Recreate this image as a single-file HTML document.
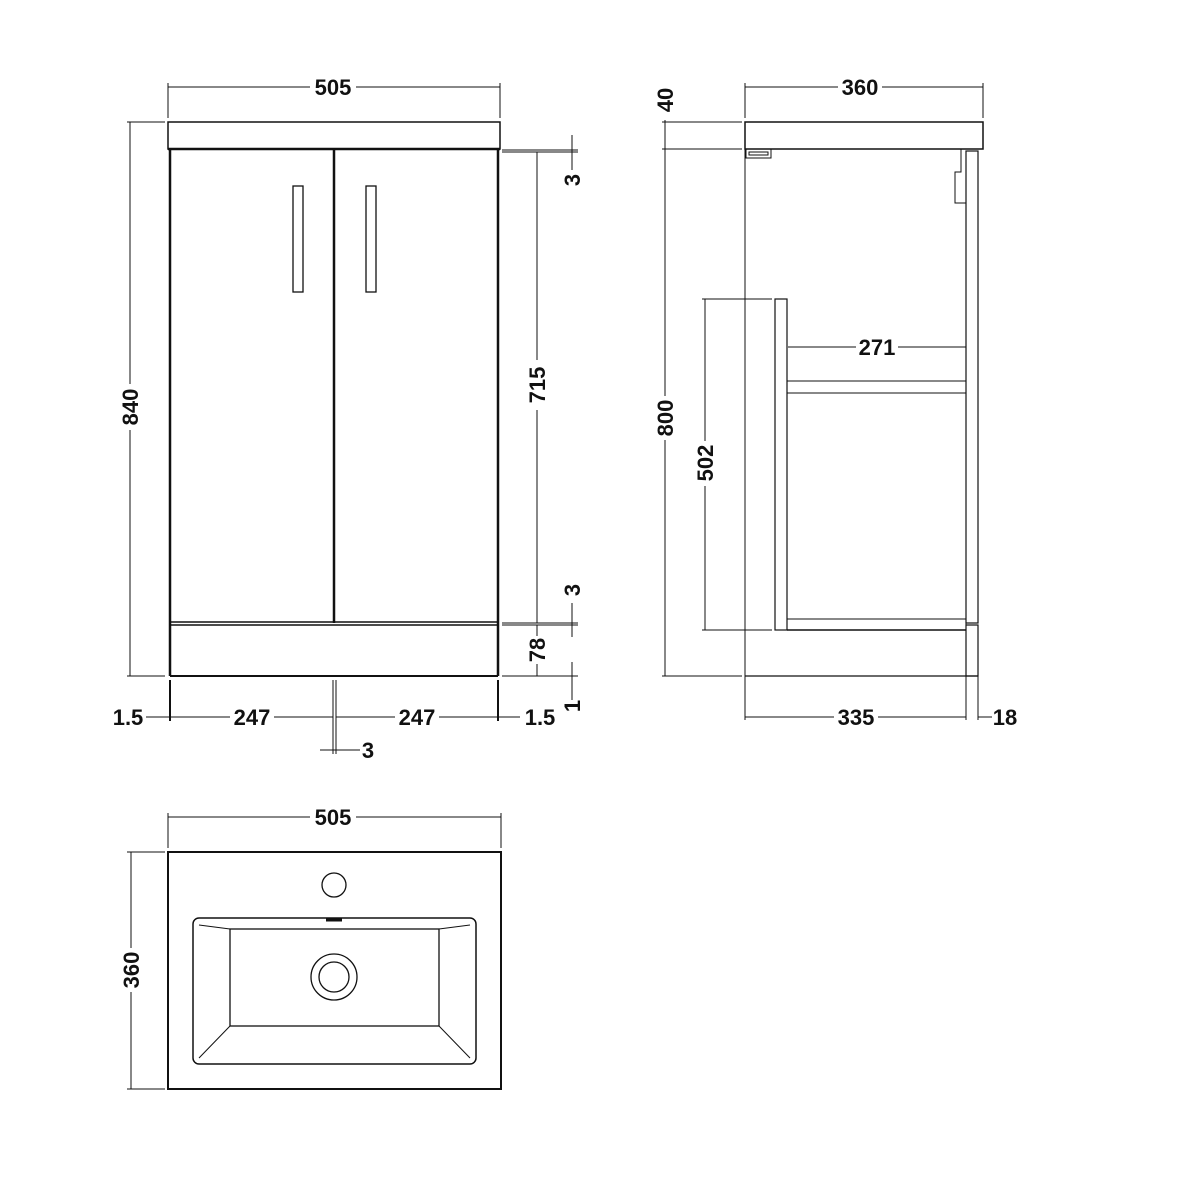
<!DOCTYPE html>
<html><head><meta charset="utf-8"><style>
html,body{margin:0;padding:0;background:#fff}
svg{display:block}
text{font-family:"Liberation Sans",sans-serif;font-weight:bold;font-size:22px;fill:#111}
</style></head><body>
<svg width="1200" height="1200" viewBox="0 0 1200 1200" xmlns="http://www.w3.org/2000/svg">
<g stroke="#111" fill="none" stroke-width="1">
<!-- FRONT VIEW -->
<rect x="168" y="122" width="332" height="27" stroke-width="1.5"/>
<line x1="168" y1="149" x2="500" y2="149" stroke-width="2.5"/>
<line x1="170" y1="149" x2="170" y2="676" stroke-width="2.5"/>
<line x1="498" y1="149" x2="498" y2="676" stroke-width="2.5"/>
<line x1="334" y1="149" x2="334" y2="623" stroke-width="2.5"/>
<line x1="170" y1="622" x2="498" y2="622" stroke-width="1.5"/>
<line x1="170" y1="625" x2="498" y2="625" stroke-width="1.5"/>
<line x1="170" y1="676" x2="498" y2="676" stroke-width="2"/>
<rect x="293" y="186" width="10" height="106" stroke-width="1.3"/>
<rect x="366" y="186" width="10" height="106" stroke-width="1.3"/>
<!-- 505 -->
<line x1="168" y1="83" x2="168" y2="118"/><line x1="500" y1="83" x2="500" y2="118"/>
<line x1="168" y1="87" x2="310" y2="87"/><line x1="356" y1="87" x2="500" y2="87"/>
<!-- 840 -->
<line x1="127" y1="122" x2="165" y2="122"/><line x1="127" y1="676" x2="165" y2="676"/>
<line x1="130" y1="122" x2="130" y2="384"/><line x1="130" y1="430" x2="130" y2="676"/>
<!-- right dims -->
<line x1="502" y1="150" x2="578" y2="150"/><line x1="502" y1="152" x2="578" y2="152"/>
<line x1="502" y1="623" x2="578" y2="623"/><line x1="502" y1="625" x2="578" y2="625"/>
<line x1="502" y1="676" x2="578" y2="676"/>
<line x1="537" y1="152" x2="537" y2="360"/><line x1="537" y1="410" x2="537" y2="623"/>
<line x1="537" y1="625" x2="537" y2="636"/><line x1="537" y1="664" x2="537" y2="676"/>
<line x1="572" y1="135" x2="572" y2="170"/>
<line x1="572" y1="603" x2="572" y2="637"/>
<line x1="572" y1="662" x2="572" y2="700"/>
<!-- bottom dims -->
<line x1="170" y1="680" x2="170" y2="721" stroke-width="2"/>
<line x1="498" y1="680" x2="498" y2="721" stroke-width="2"/>
<line x1="333" y1="680" x2="333" y2="754"/><line x1="336" y1="680" x2="336" y2="754"/>
<line x1="146" y1="717" x2="170" y2="717"/>
<line x1="170" y1="717" x2="230" y2="717"/><line x1="274" y1="717" x2="333" y2="717"/>
<line x1="336" y1="717" x2="395" y2="717"/><line x1="439" y1="717" x2="498" y2="717"/>
<line x1="498" y1="717" x2="520" y2="717"/>
<line x1="320" y1="750" x2="360" y2="750"/>
<!-- SIDE VIEW -->
<rect x="745" y="122" width="238" height="27" stroke-width="1.5"/>
<line x1="745" y1="149" x2="745" y2="720"/>
<line x1="745" y1="676" x2="978" y2="676" stroke-width="1.3"/>
<rect x="746" y="149" width="25" height="9"/>
<rect x="749" y="152" width="19" height="3"/>
<rect x="966" y="151" width="12" height="472" stroke-width="1.2"/>
<rect x="966" y="625" width="12" height="51" stroke-width="1.2"/>
<line x1="966" y1="623" x2="966" y2="720"/><line x1="978" y1="676" x2="978" y2="720"/>
<polyline points="961,149 961,172 955,172 955,203 966,203"/>
<rect x="775" y="299" width="12" height="331" stroke-width="1.2"/>
<line x1="787" y1="619" x2="966" y2="619"/>
<line x1="787" y1="630" x2="966" y2="630" stroke-width="1.5"/>
<line x1="787" y1="381" x2="966" y2="381"/>
<line x1="787" y1="393" x2="966" y2="393"/>
<!-- 360 -->
<line x1="745" y1="83" x2="745" y2="118"/><line x1="983" y1="83" x2="983" y2="118"/>
<line x1="745" y1="87" x2="838" y2="87"/><line x1="882" y1="87" x2="983" y2="87"/>
<!-- 40 / 800 -->
<line x1="662" y1="122" x2="742" y2="122"/><line x1="662" y1="149" x2="742" y2="149"/>
<line x1="662" y1="676" x2="742" y2="676"/>
<line x1="665" y1="120" x2="665" y2="152"/>
<line x1="665" y1="149" x2="665" y2="396"/><line x1="665" y1="440" x2="665" y2="676"/>
<!-- 502 -->
<line x1="702" y1="299" x2="772" y2="299"/><line x1="702" y1="630" x2="772" y2="630"/>
<line x1="705" y1="299" x2="705" y2="441"/><line x1="705" y1="486" x2="705" y2="630"/>
<!-- 271 -->
<line x1="788" y1="347" x2="856" y2="347"/><line x1="898" y1="347" x2="966" y2="347"/>
<!-- 335 / 18 -->
<line x1="745" y1="717" x2="834" y2="717"/><line x1="878" y1="717" x2="966" y2="717"/>
<line x1="978" y1="717" x2="992" y2="717"/>
<!-- BASIN -->
<rect x="168" y="852" width="333" height="237" stroke-width="2"/>
<circle cx="334" cy="885" r="12" stroke-width="1.3"/>
<rect x="193" y="918" width="283" height="146" rx="6" stroke-width="1.5"/>
<rect x="230" y="929" width="209" height="97" stroke-width="1.3"/>
<line x1="199" y1="925" x2="230" y2="929"/><line x1="470" y1="925" x2="439" y2="929"/>
<line x1="199" y1="1058" x2="230" y2="1026"/><line x1="470" y1="1058" x2="439" y2="1026"/>
<line x1="326" y1="920" x2="342" y2="920" stroke-width="3"/>
<circle cx="334" cy="977" r="23" stroke-width="1.3"/>
<circle cx="334" cy="977" r="15" stroke-width="1.3"/>
<line x1="168" y1="813" x2="168" y2="848"/><line x1="501" y1="813" x2="501" y2="848"/>
<line x1="168" y1="817" x2="310" y2="817"/><line x1="356" y1="817" x2="501" y2="817"/>
<line x1="127" y1="852" x2="165" y2="852"/><line x1="127" y1="1089" x2="165" y2="1089"/>
<line x1="131" y1="852" x2="131" y2="948"/><line x1="131" y1="992" x2="131" y2="1089"/>
</g>
<g>
<text x="333" y="95" text-anchor="middle">505</text>
<text x="860" y="95" text-anchor="middle">360</text>
<text x="877" y="355" text-anchor="middle">271</text>
<text x="856" y="725" text-anchor="middle">335</text>
<text x="1005" y="725" text-anchor="middle">18</text>
<text x="128" y="725" text-anchor="middle">1.5</text>
<text x="252" y="725" text-anchor="middle">247</text>
<text x="417" y="725" text-anchor="middle">247</text>
<text x="540" y="725" text-anchor="middle">1.5</text>
<text x="368" y="758" text-anchor="middle">3</text>
<text x="333" y="825" text-anchor="middle">505</text>
<text transform="translate(138,407) rotate(-90)" text-anchor="middle">840</text>
<text transform="translate(545,385) rotate(-90)" text-anchor="middle">715</text>
<text transform="translate(580,180) rotate(-90)" text-anchor="middle">3</text>
<text transform="translate(580,590) rotate(-90)" text-anchor="middle">3</text>
<text transform="translate(545,650) rotate(-90)" text-anchor="middle">78</text>
<text transform="translate(580,706) rotate(-90)" text-anchor="middle">1</text>
<text transform="translate(673,100) rotate(-90)" text-anchor="middle">40</text>
<text transform="translate(673,418) rotate(-90)" text-anchor="middle">800</text>
<text transform="translate(713,463) rotate(-90)" text-anchor="middle">502</text>
<text transform="translate(139,970) rotate(-90)" text-anchor="middle">360</text>
</g>
</svg>
</body></html>
